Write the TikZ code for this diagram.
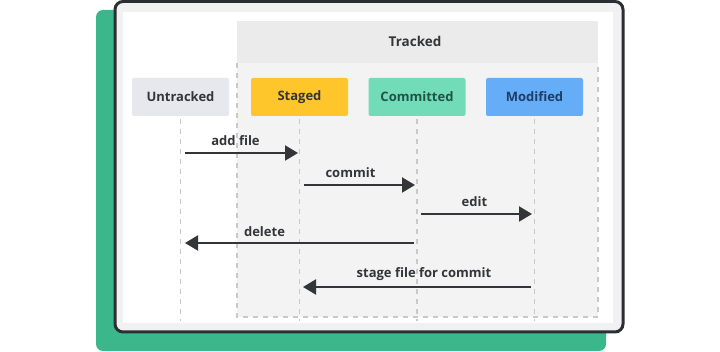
\documentclass[tikz,border=0pt]{standalone}
\usepackage{fontspec}
\setmainfont{Open Sans}
\usetikzlibrary{arrows.meta}
\definecolor{grn}{HTML}{3AB88B}
\definecolor{frame}{HTML}{2B2F33}
\definecolor{cardgray}{HTML}{F1F1F1}
\definecolor{hdr}{HTML}{EBEBEB}
\definecolor{trk}{HTML}{F3F3F3}
\definecolor{dsh}{HTML}{C9C9C9}
\definecolor{ink}{HTML}{333538}
\definecolor{untr}{HTML}{E7E7EE}
\definecolor{stg}{HTML}{FFC62B}
\definecolor{cmt}{HTML}{72DCB9}
\definecolor{mod}{HTML}{66ADF7}
\definecolor{cmtink}{HTML}{1F5444}
\definecolor{modink}{HTML}{1F3D66}
\tikzset{
  state/.style={minimum width=97pt,minimum height=38pt,rounded corners=2pt,inner sep=0pt,font=\bfseries\fontsize{13}{15}\selectfont},
  life/.style={draw=dsh,line width=1.2pt,dash pattern=on 5pt off 5pt},
  msg/.style={draw=ink,line width=2.2pt,-{Triangle[length=13pt,width=15pt]}},
  lbl/.style={font=\bfseries\fontsize{13}{15}\selectfont,text=ink,anchor=south,inner sep=0pt}
}
\begin{document}
\begin{tikzpicture}[x=1pt,y=-1pt]
\useasboundingbox (0,0) rectangle (720,352);
% green backdrop
\fill[grn,rounded corners=7pt] (96,10) rectangle (606,351);
% card
\filldraw[fill=cardgray,draw=frame,line width=3pt,rounded corners=8pt] (115,1.5) rectangle (623,332);
\fill[white] (123,12) rectangle (613,323);
% tracked area
\fill[trk] (237,21) rectangle (598,317);
\fill[hdr] (237,21) rectangle (598,63);
\node[font=\bfseries\fontsize{13.5}{15}\selectfont,text=ink] (tracked) at (415,41) {Tracked};
\draw[life] (237,63) -- (237,317) -- (598,317) -- (598,63);
% states
\node[state,fill=untr,text=ink] (untracked) at (180.5,97) {Untracked};
\node[state,fill=stg,text=ink] (staged) at (299.5,97) {Staged};
\node[state,fill=cmt,text=cmtink] (committed) at (417,97) {Committed};
\node[state,fill=mod,text=modink] (modified) at (534.5,97) {Modified};
% lifelines
\coordinate (uend) at (180.5,321);
\coordinate (send) at (299.5,321);
\coordinate (cend) at (417,321);
\coordinate (mend) at (534.5,321);
\draw[life] (untracked.south) ++(0,3) -- (uend);
\draw[life] (staged.south) ++(0,3) -- (send);
\draw[life] (committed.south) ++(0,3) -- (cend);
\draw[life] (modified.south) ++(0,3) -- (mend);
% message anchors
\coordinate (a1) at (185,153); \coordinate (a2) at (298,153);
\coordinate (b1) at (304,185); \coordinate (b2) at (415,185);
\coordinate (c1) at (421,214); \coordinate (c2) at (532,214);
\coordinate (d1) at (414,243); \coordinate (d2) at (185,243);
\coordinate (e1) at (531,287); \coordinate (e2) at (303,287);
\draw[msg] (a1) -- node[lbl,yshift=6pt,xshift=-6pt] (l1) {add file} (a2);
\draw[msg] (b1) -- node[lbl,yshift=6pt,xshift=-9pt] (l2) {commit} (b2);
\draw[msg] (c1) -- node[lbl,yshift=6pt,xshift=-2pt] (l3) {edit} (c2);
\draw[msg] (d1) -- node[lbl,yshift=5pt,xshift=-35pt] (l4) {delete} (d2);
\draw[msg] (e1) -- node[lbl,yshift=5pt,xshift=7pt] (l5) {stage file for commit} (e2);
\end{tikzpicture}
\end{document}
